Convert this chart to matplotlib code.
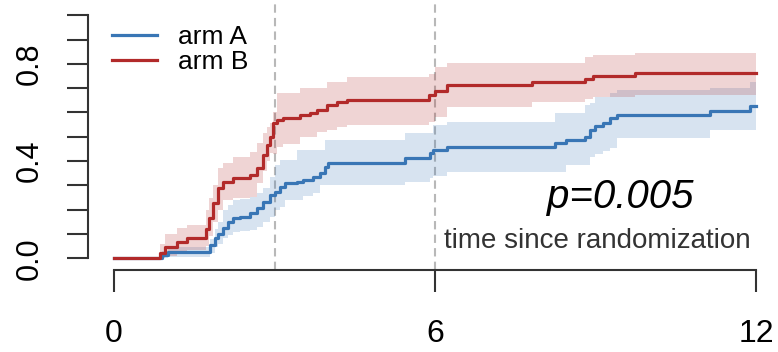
import matplotlib
matplotlib.use("Agg")
import matplotlib.pyplot as plt
import numpy as np

plt.rcParams["font.family"] = ["Liberation Sans", "DejaVu Sans"]

# cumulative incidence, arm A (blue)
a_time = [0, 0.90, 1.00, 1.79, 1.89, 1.94, 2.04, 2.13, 2.22, 2.36, 2.54, 2.67, 2.79, 2.92,
          3.01, 3.10, 3.20, 3.42, 3.53, 3.72, 3.85, 3.94, 4.00, 5.44, 5.91, 5.96, 6.22,
          8.24, 8.45, 8.80, 8.90, 8.99, 9.14, 9.27, 9.40, 11.14, 11.89]
a_est = [0, 0.013, 0.026, 0.055, 0.084, 0.10, 0.124, 0.149, 0.166, 0.17, 0.186, 0.207, 0.232, 0.262,
         0.273, 0.293, 0.31, 0.314, 0.322, 0.334, 0.351, 0.376, 0.392, 0.412, 0.433, 0.446, 0.456,
         0.474, 0.487, 0.499, 0.528, 0.544, 0.556, 0.577, 0.59, 0.606, 0.626]
a_lo = [0, 0.0, 0.005, 0.02, 0.047, 0.06, 0.084, 0.095, 0.108, 0.112, 0.116, 0.13, 0.15, 0.17,
        0.20, 0.211, 0.24, 0.24, 0.255, 0.268, 0.30, 0.30, 0.30, 0.314, 0.33, 0.34, 0.355,
        0.355, 0.384, 0.384, 0.417, 0.43, 0.44, 0.454, 0.495, 0.528, 0.528]
a_hi = [0, 0.03, 0.047, 0.08, 0.12, 0.15, 0.20, 0.22, 0.24, 0.245, 0.252, 0.27, 0.29, 0.335,
        0.384, 0.404, 0.404, 0.446, 0.446, 0.446, 0.446, 0.487, 0.487, 0.515, 0.515, 0.548, 0.561,
        0.598, 0.598, 0.63, 0.64, 0.664, 0.664, 0.68, 0.693, 0.70, 0.726]

# arm B (red)
b_time = [0, 0.86, 0.95, 1.18, 1.36, 1.72, 1.78, 1.85, 1.94, 2.04, 2.22, 2.54, 2.67, 2.79,
          2.86, 2.92, 2.97, 3.05, 3.16, 3.48, 3.66, 3.79, 3.98, 4.17, 4.36, 5.88, 6.00,
          6.22, 7.81, 8.80, 8.95, 9.74]
b_est = [0, 0.02, 0.045, 0.067, 0.084, 0.12, 0.165, 0.228, 0.29, 0.314, 0.33, 0.343, 0.372, 0.425,
         0.466, 0.50, 0.557, 0.569, 0.577, 0.59, 0.598, 0.61, 0.631, 0.643, 0.651, 0.672, 0.688,
         0.713, 0.726, 0.738, 0.75, 0.763]
b_lo = [0, 0.0, 0.01, 0.025, 0.034, 0.05, 0.09, 0.15, 0.20, 0.24, 0.248, 0.252, 0.31, 0.36,
        0.40, 0.433, 0.43, 0.458, 0.47, 0.499, 0.499, 0.52, 0.528, 0.54, 0.548, 0.56, 0.58,
        0.623, 0.643, 0.655, 0.664, 0.672]
b_hi = [0, 0.06, 0.10, 0.125, 0.137, 0.20, 0.25, 0.30, 0.37, 0.392, 0.417, 0.437, 0.474, 0.515,
        0.54, 0.557, 0.60, 0.68, 0.68, 0.70, 0.70, 0.70, 0.726, 0.726, 0.747, 0.76, 0.787,
        0.803, 0.803, 0.829, 0.837, 0.845]

t_end = 12.0
arms = ["arm A", "arm B"]
arm_colors = ["#3976b5", "#b22a2a"]
landmarks = [3, 6]
x_ticks = [0, 6, 12]
y_ticks = [0.0, 0.1, 0.2, 0.3, 0.4, 0.5, 0.6, 0.7, 0.8, 0.9, 1.0]
y_ticklabels = ["0.0", "", "", "", "0.4", "", "", "", "0.8", "", ""]
p_text = "p=0.005"
x_text = "time since randomization"

fig = plt.figure(figsize=(7.78, 3.52), dpi=100, facecolor="white")
ax = fig.add_axes([88 / 778, 82 / 352, 690 / 778, 265 / 352])

series = [(a_time, a_est, a_lo, a_hi), (b_time, b_est, b_lo, b_hi)]
for (t, est, lo, hi), name, col in zip(series, arms, arm_colors):
    tt = np.append(t, t_end)
    ax.fill_between(tt, np.append(lo, lo[-1]), np.append(hi, hi[-1]), step="post",
                    color=col, alpha=0.2, linewidth=0)
    ax.step(tt, np.append(est, est[-1]), where="post", color=col, linewidth=2.3, label=name)

for xv in landmarks:
    ax.axvline(xv, ymin=0, ymax=1.03, color="#b8b8b8", linewidth=1.5,
               linestyle=(0, (4, 2.5)), clip_on=False, zorder=0)

ax.set_xlim(-0.486, 12.41)
ax.set_ylim(-0.048, 1.042)

for side in ["top", "right"]:
    ax.spines[side].set_visible(False)
ax.spines["left"].set_bounds(0, 1)
ax.spines["bottom"].set_bounds(0, 12)
for side in ["left", "bottom"]:
    ax.spines[side].set_color("#333333")
    ax.spines[side].set_linewidth(1.5)

ax.set_xticks(x_ticks)
ax.set_xticklabels([str(v) for v in x_ticks])
ax.set_yticks(y_ticks)
ax.set_yticklabels(y_ticklabels, rotation=90, va="center")
ax.tick_params(axis="x", length=16, width=1.5, color="#333333", pad=19, labelsize=23)
ax.tick_params(axis="y", length=15, width=1.5, color="#333333", pad=16, labelsize=22)

ax.legend(loc="upper left", bbox_to_anchor=(0.02, 0.965), frameon=False, fontsize=19,
          handlelength=1.7, handletextpad=0.8, labelspacing=0.05, borderaxespad=0)

ax.text(9.46, 0.207, p_text, fontsize=29, style="italic", ha="center", va="baseline")
ax.text(9.03, 0.042, x_text, fontsize=20, color="#333333", ha="center", va="baseline")

fig.savefig("out.png", dpi=100, facecolor="white")
